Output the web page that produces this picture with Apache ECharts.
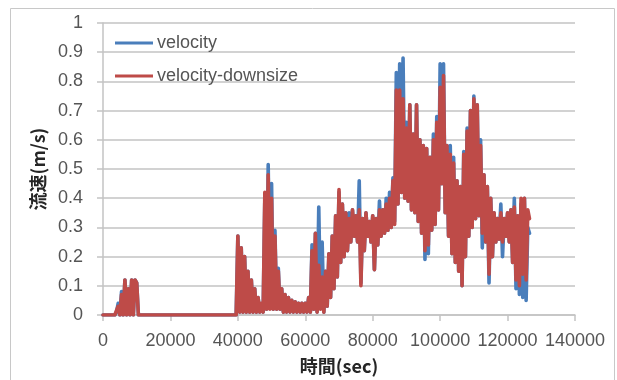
<!DOCTYPE html>
<html>
<head>
<meta charset="utf-8">
<script src="https://cdn.jsdelivr.net/npm/echarts@6/dist/echarts.min.js"></script>
<style>
  html, body { margin: 0; padding: 0; background: #ffffff; }
  #chart { width: 617px; height: 380px; }
</style>
</head>
<body>
<div id="chart"></div>
<script>
// Sample times (sec)
const timeSec = [
  0, 3500, 4000, 4500, 5000, 5500, 6000, 6500, 7000, 7500, 8000, 8500, 9000, 9500, 10000, 10500,
  39500,
  40000, 40500, 41000, 41500, 42000, 42500, 43000, 43500, 44000, 44500,
  45000, 45500, 46000, 46500, 47000, 47500, 48000, 48500, 49000, 49500,
  50000, 50500, 51000, 51500, 52000, 52500, 53000, 53500, 54000, 54500,
  55000, 55500, 56000, 56500, 57000, 57500, 58000, 58500, 59000, 59500,
  60000, 60500, 61000, 61500, 62000, 62500, 63000, 63500, 64000, 64500,
  65000, 65500, 66000, 66500, 67000, 67500, 68000, 68500, 69000, 69500,
  70000, 70500, 71000, 71500, 72000, 72500, 73000, 73500, 74000, 74500,
  75000, 75500, 76000, 76500, 77000, 77500, 78000, 78500, 79000, 79500,
  80000, 80500, 81000, 81500, 82000, 82500, 83000, 83500, 84000, 84500,
  85000, 85500, 86000, 86500, 87000, 87500, 88000, 88500, 89000, 89500,
  90000, 90500, 91000, 91500, 92000, 92500, 93000, 93500, 94000, 94500,
  95000, 95500, 96000, 96500, 97000, 97500, 98000, 98500, 99000, 99500,
  100000, 100500, 101000, 101500, 102000, 102500, 103000, 103500, 104000, 104500,
  105000, 105500, 106000, 106500, 107000, 107500, 108000, 108500, 109000, 109500,
  110000, 110500, 111000, 111500, 112000, 112500, 113000, 113500, 114000, 114500,
  115000, 115500, 116000, 116500, 117000, 117500, 118000, 118500, 119000, 119500,
  120000, 120500, 121000, 121500, 122000, 122500, 123000, 123500, 124000, 124500,
  125000, 125500, 126000, 126500
];

// velocity (m/s)
const velocity = [
  0, 0, 0.01, 0.04, 0, 0.08, 0, 0.12, 0, 0.09, 0, 0.12, 0, 0.12, 0.11, 0,
  0,
  0.27, 0.01, 0.23, 0.01, 0.20, 0.01, 0.15, 0.01, 0.12, 0.01,
  0.09, 0.01, 0.06, 0.01, 0.03, 0.01, 0.40, 0.02, 0.515, 0.03,
  0.45, 0.02, 0.29, 0.02, 0.16, 0.02, 0.09, 0.01, 0.07, 0.01,
  0.06, 0.01, 0.05, 0.01, 0.045, 0.01, 0.04, 0.01, 0.04, 0.01,
  0.04, 0.01, 0.06, 0.01, 0.24, 0.02, 0.28, 0.01, 0.37, 0.03,
  0.25, 0.01, 0.15, 0.03, 0.21, 0.06, 0.27, 0.09, 0.34, 0.13,
  0.42, 0.18, 0.38, 0.20, 0.35, 0.22, 0.35, 0.25, 0.36, 0.27,
  0.34, 0.25, 0.46, 0.11, 0.33, 0.22, 0.35, 0.27, 0.32, 0.25,
  0.34, 0.155, 0.33, 0.24, 0.39, 0.27, 0.36, 0.28, 0.40, 0.29,
  0.42, 0.30, 0.47, 0.32, 0.83, 0.38, 0.86, 0.42, 0.88, 0.40,
  0.66, 0.39, 0.72, 0.36, 0.62, 0.35, 0.72, 0.32, 0.60, 0.28,
  0.58, 0.19, 0.57, 0.21, 0.54, 0.29, 0.62, 0.31, 0.68, 0.36,
  0.86, 0.45, 0.86, 0.35, 0.58, 0.27, 0.58, 0.21, 0.54, 0.18,
  0.46, 0.15, 0.44, 0.10, 0.56, 0.20, 0.64, 0.27, 0.70, 0.30,
  0.75, 0.33, 0.72, 0.34, 0.60, 0.23, 0.48, 0.25, 0.44, 0.11,
  0.40, 0.20, 0.35, 0.25, 0.33, 0.26, 0.38, 0.20, 0.33, 0.27,
  0.35, 0.25, 0.36, 0.18, 0.40, 0.09, 0.34, 0.07, 0.38, 0.06,
  0.40, 0.05, 0.30, 0.28
];

// velocity-downsize (m/s)
const velocityDownsize = [
  0, 0, 0, 0.03, 0, 0.07, 0, 0.12, 0, 0.09, 0, 0.12, 0, 0.12, 0.11, 0,
  0,
  0.27, 0.01, 0.23, 0.01, 0.20, 0.01, 0.15, 0.01, 0.12, 0.01,
  0.09, 0.01, 0.06, 0.01, 0.04, 0.01, 0.42, 0.02, 0.48, 0.02,
  0.40, 0.02, 0.27, 0.02, 0.15, 0.02, 0.09, 0.01, 0.07, 0.01,
  0.06, 0.01, 0.05, 0.01, 0.045, 0.01, 0.04, 0.01, 0.04, 0.01,
  0.04, 0.01, 0.06, 0.01, 0.22, 0.02, 0.28, 0.01, 0.17, 0.02,
  0.13, 0.01, 0.15, 0.03, 0.21, 0.06, 0.27, 0.09, 0.34, 0.13,
  0.43, 0.18, 0.38, 0.20, 0.35, 0.22, 0.33, 0.25, 0.36, 0.27,
  0.34, 0.25, 0.36, 0.10, 0.33, 0.22, 0.35, 0.27, 0.32, 0.25,
  0.34, 0.155, 0.33, 0.24, 0.36, 0.27, 0.36, 0.28, 0.38, 0.29,
  0.40, 0.30, 0.46, 0.31, 0.77, 0.38, 0.77, 0.42, 0.74, 0.40,
  0.64, 0.39, 0.72, 0.36, 0.62, 0.35, 0.72, 0.32, 0.60, 0.28,
  0.58, 0.22, 0.57, 0.24, 0.54, 0.29, 0.60, 0.31, 0.66, 0.36,
  0.78, 0.45, 0.82, 0.35, 0.58, 0.27, 0.55, 0.21, 0.52, 0.18,
  0.46, 0.15, 0.44, 0.10, 0.55, 0.20, 0.63, 0.27, 0.70, 0.30,
  0.74, 0.33, 0.72, 0.34, 0.58, 0.28, 0.48, 0.25, 0.44, 0.14,
  0.40, 0.20, 0.35, 0.25, 0.33, 0.26, 0.35, 0.25, 0.33, 0.27,
  0.35, 0.25, 0.36, 0.18, 0.37, 0.12, 0.34, 0.10, 0.40, 0.14,
  0.40, 0.12, 0.36, 0.33
];

const seriesNames = ['velocity', 'velocity-downsize'];
const yTickLabels = ['0', '0.1', '0.2', '0.3', '0.4', '0.5', '0.6', '0.7', '0.8', '0.9', '1'];
const xTickLabels = ['0', '20000', '40000', '60000', '80000', '100000', '120000', '140000'];

const pairs = (vals) => timeSec.map((t, i) => [t, vals[i]]);

const labelFont = { fontFamily: 'Liberation Sans', fontSize: 18, color: '#555555' };
const gridColor = '#c3c3c3';

const chart = echarts.init(document.getElementById('chart'), null, { renderer: 'canvas' });
chart.setOption({
  animation: false,
  backgroundColor: '#ffffff',
  graphic: [{
    type: 'rect',
    shape: { x: 10.5, y: 8.5, width: 604, height: 380 },
    style: { fill: 'none', stroke: '#c8c8c8', lineWidth: 1 },
    silent: true
  }],
  grid: { left: 103, right: 42, top: 23, bottom: 61, containLabel: false },
  legend: {
    orient: 'vertical',
    left: 115,
    top: 34,
    padding: 0,
    itemGap: 15,
    itemWidth: 38,
    itemHeight: 3,
    icon: 'rect',
    textStyle: { fontFamily: 'Liberation Sans', fontSize: 18, color: '#555555', padding: [0, 0, 0, -1] },
    data: seriesNames
  },
  xAxis: {
    type: 'value',
    min: 0,
    max: 140000,
    interval: 20000,
    name: '時間(sec)',
    nameLocation: 'middle',
    nameGap: 42,
    nameTextStyle: { fontFamily: 'Noto Sans CJK JP', fontSize: 18, fontWeight: 'bold', color: '#262626' },
    axisLine: { show: true, lineStyle: { color: gridColor, width: 1.5 } },
    axisTick: { show: true, inside: false, length: 6, lineStyle: { color: gridColor, width: 1.5 } },
    axisLabel: Object.assign({ margin: 17, formatter: (v) => xTickLabels[Math.round(v / 20000)] }, labelFont),
    splitLine: { show: false }
  },
  yAxis: {
    type: 'value',
    min: 0,
    max: 1,
    interval: 0.1,
    name: '流速(m/s)',
    nameLocation: 'middle',
    nameRotate: 90,
    nameGap: 45,
    nameTextStyle: { fontFamily: 'Noto Sans CJK JP', fontSize: 18, fontWeight: 'bold', color: '#262626' },
    axisLine: { show: true, lineStyle: { color: gridColor, width: 1.5 } },
    axisTick: { show: true, inside: false, length: 6, lineStyle: { color: gridColor, width: 1.5 } },
    axisLabel: Object.assign({ margin: 20, formatter: (v) => yTickLabels[Math.round(v * 10)] }, labelFont),
    splitLine: { show: true, lineStyle: { color: gridColor, width: 1.5 } }
  },
  series: [
    {
      name: seriesNames[0],
      type: 'line',
      data: pairs(velocity),
      showSymbol: false,
      symbol: 'none',
      sampling: null,
      itemStyle: { color: '#4a7ebb' },
      lineStyle: { color: '#4a7ebb', width: 3.6, join: 'round', cap: 'round' },
      z: 2
    },
    {
      name: seriesNames[1],
      type: 'line',
      data: pairs(velocityDownsize),
      showSymbol: false,
      symbol: 'none',
      sampling: null,
      itemStyle: { color: '#be4b48' },
      lineStyle: { color: '#be4b48', width: 3.6, join: 'round', cap: 'round' },
      z: 3
    }
  ]
});
</script>
</body>
</html>
